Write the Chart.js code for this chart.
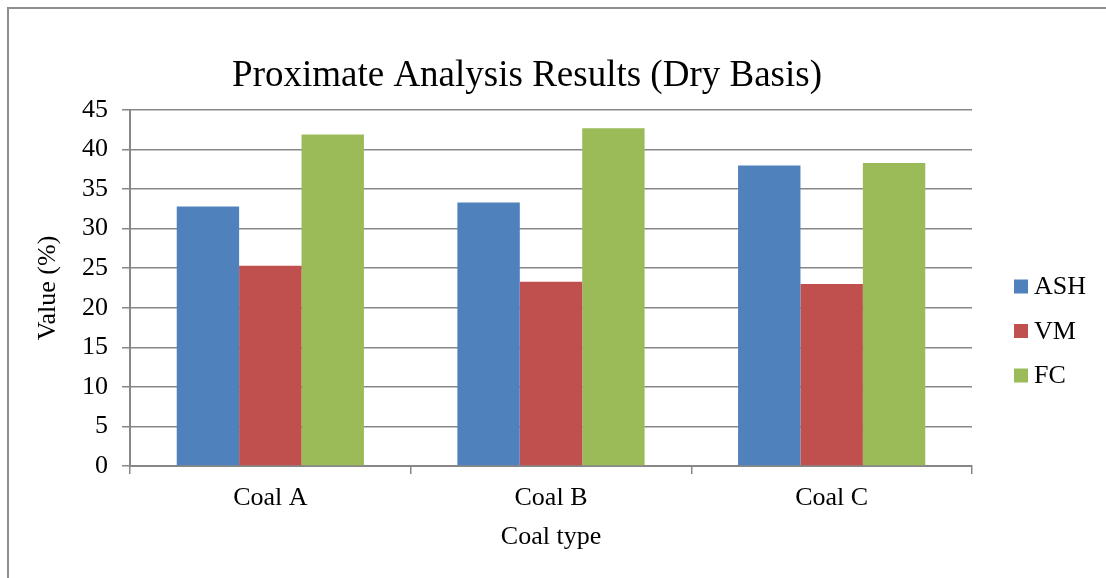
<!DOCTYPE html>
<html>
<head>
<meta charset="utf-8">
<title>Proximate Analysis Results</title>
<script src="https://cdn.jsdelivr.net/npm/chart.js@4.4.1/dist/chart.umd.min.js"></script>
<style>
    html, body { margin: 0; padding: 0; background: #ffffff; }
    #wrap { position: relative; width: 1106px; height: 578px; overflow: hidden; }
    #frame {
        position: absolute; left: 7px; top: 7px; width: 1200px; height: 700px;
        border-left: 2px solid #8e8e8e; border-top: 2px solid #8e8e8e;
    }
    canvas { position: absolute; left: 0; top: 0; }
</style>
</head>
<body>
<div id="wrap">
    <div id="frame"></div>
    <canvas id="proxChart" width="1106" height="578"></canvas>
</div>
<script>
// ======================================================
// DATA
// ======================================================

const coalTypes = ["Coal A", "Coal B", "Coal C"];

const ashValues = [32.8, 33.3, 38.0];
const vmValues = [25.3, 23.3, 23.0];
const fcValues = [41.9, 42.7, 38.3];

const seriesNames = ["ASH", "VM", "FC"];
const seriesColors = ["#4f81bd", "#c0504d", "#9bbb59"];

const chartTitle = "Proximate Analysis Results (Dry Basis)";

const FONT = "'Liberation Serif', 'Times New Roman', serif";
const GRID = "#878787";

// ======================================================
// TITLE + LEGEND (drawn beside the plot area)
// ======================================================

const decorPlugin = {
    id: "decor",
    afterDraw(chart) {
        const ctx = chart.ctx;
        const area = chart.chartArea;

        ctx.save();
        ctx.fillStyle = "#000000";

        // title
        ctx.font = "37px " + FONT;
        ctx.textAlign = "center";
        ctx.textBaseline = "alphabetic";
        ctx.fillText(chartTitle, area.left + (area.right - area.left) * 0.4715, area.top - 24);

        // legend
        const midY = (area.top + area.bottom) / 2 + 43;
        const step = 44.5;
        ctx.font = "26px " + FONT;
        ctx.textAlign = "left";
        ctx.textBaseline = "middle";
        chart.data.datasets.forEach(function (ds, i) {
            const y = midY + (i - 1) * step;
            ctx.fillStyle = ds.backgroundColor;
            ctx.fillRect(area.right + 42, y - 7, 14, 14);
            ctx.fillStyle = "#000000";
            ctx.fillText(ds.label, area.right + 62, y + 1);
        });
        ctx.restore();
    }
};

// ======================================================
// BAR CHART
// ======================================================

const datasets = [ashValues, vmValues, fcValues].map(function (values, i) {
    return {
        label: seriesNames[i],
        data: values,
        backgroundColor: seriesColors[i],
        borderWidth: 0,
        barPercentage: 1.0,
        categoryPercentage: 0.667
    };
});

const ctx = document.getElementById("proxChart").getContext("2d");

new Chart(ctx, {
    type: "bar",
    data: {
        labels: coalTypes,
        datasets: datasets
    },
    plugins: [decorPlugin],
    options: {
        responsive: false,
        animation: false,
        layout: {
            padding: { top: 110, right: 134, bottom: 0, left: 0 }
        },
        plugins: {
            legend: { display: false },
            title: { display: false },
            tooltip: { enabled: false }
        },
        scales: {
            x: {
                afterFit: function (scale) { scale.height = 112; },
                offset: true,
                grid: {
                    offset: true,
                    drawOnChartArea: false,
                    drawTicks: true,
                    tickLength: 8,
                    color: GRID,
                    lineWidth: 1.5
                },
                border: { color: GRID, width: 2 },
                ticks: {
                    color: "#000000",
                    padding: 9,
                    font: { family: FONT, size: 26 }
                },
                title: {
                    display: true,
                    text: "Coal type",
                    color: "#000000",
                    padding: { top: 0, bottom: 25 },
                    font: { family: FONT, size: 26 }
                }
            },
            y: {
                afterFit: function (scale) { scale.width = 130; },
                min: 0,
                max: 45,
                ticks: {
                    stepSize: 5,
                    color: "#000000",
                    padding: 14,
                    font: { family: FONT, size: 26 }
                },
                grid: {
                    color: GRID,
                    lineWidth: 1.5,
                    tickLength: 8
                },
                border: { color: GRID, width: 2 },
                title: {
                    display: true,
                    text: "Value (%)",
                    color: "#000000",
                    padding: { top: 33, bottom: 0 },
                    font: { family: FONT, size: 26 }
                }
            }
        }
    }
});
</script>
</body>
</html>
